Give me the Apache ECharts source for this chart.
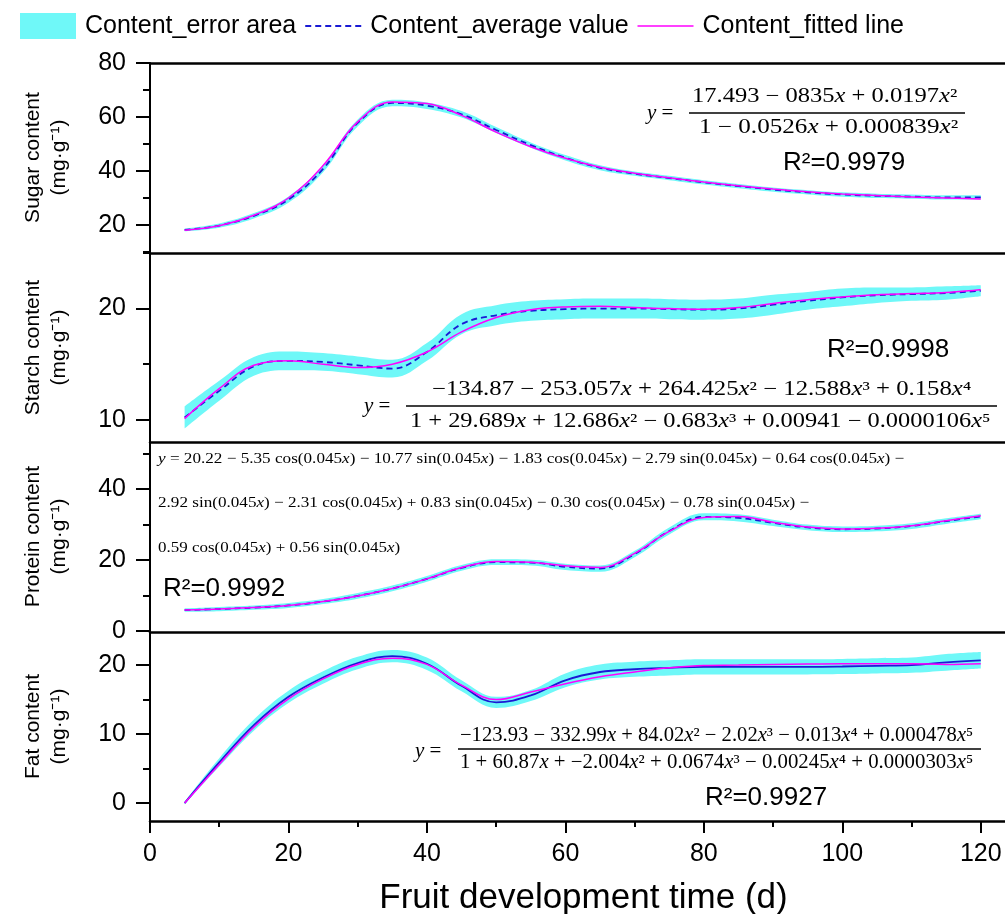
<!DOCTYPE html>
<html><head><meta charset="utf-8">
<script src="https://cdn.jsdelivr.net/npm/echarts@6/dist/echarts.min.js"></script>
<style>html,body{margin:0;padding:0;background:#fff}#c{width:1005px;height:914px}</style>
</head><body><div id="c"></div><script>
// ---------- data ----------
const days = [5,10,15,20,25,30,35,40,45,50,55,60,65,70,75,80,85,90,95,100,105,110,115,120];

const sugarAvg = [18.2,19.8,23.4,29.4,40.8,57.8,65.2,64.2,61.0,55.2,49.6,44.9,41.2,39.0,37.4,35.8,34.4,33.1,32.1,31.3,30.8,30.5,30.2,30.2];
const sugarFit = [18.1,19.7,23.6,30.0,42.0,58.2,65.6,65.0,60.6,54.4,49.0,44.7,41.4,39.2,37.5,35.9,34.5,33.3,32.3,31.5,30.9,30.4,30.0,29.6];
const sugarErr = [0.5,0.8,1.0,1.2,1.3,1.3,1.2,1.2,1.2,1.1,1.0,1.0,0.9,0.8,0.8,0.8,0.8,0.8,0.8,0.8,0.8,0.8,0.8,0.8];

const starchAvg = [10.2,12.6,14.8,15.3,15.2,14.9,14.6,16.1,18.6,19.4,19.8,19.95,20.0,20.0,19.95,19.9,20.0,20.35,20.7,21.0,21.2,21.3,21.4,21.6];
const starchFit = [10.1,12.8,14.9,15.3,15.0,14.7,15.0,16.1,17.9,19.2,19.9,20.15,20.2,20.1,20.0,19.95,20.1,20.45,20.8,21.05,21.25,21.35,21.45,21.7];
const starchErr = [1.0,0.9,0.85,0.85,0.8,0.8,0.8,0.8,0.9,0.9,0.9,0.9,0.9,0.9,0.9,0.9,0.9,0.9,0.8,0.8,0.7,0.6,0.6,0.5];

const proteinAvg = [5.9,6.2,6.6,7.2,8.3,9.9,12.0,14.7,17.8,19.4,19.3,18.1,17.6,21.7,28.2,32.2,31.9,30.5,29.2,28.7,28.9,29.6,31.0,32.3];
const proteinFit = [5.9,6.2,6.6,7.2,8.3,9.9,12.0,14.7,17.9,19.6,19.4,18.4,17.9,21.9,28.1,32.0,32.3,30.7,29.3,28.8,29.0,29.7,31.1,32.5];
const proteinErr = [0.5,0.6,0.6,0.7,0.7,0.8,0.8,0.8,0.8,0.8,0.8,0.9,0.9,0.9,1.0,1.0,1.0,0.9,0.8,0.8,0.8,0.8,0.8,0.8];

const fatAvg = [0.0,5.9,11.3,15.4,18.2,20.3,21.3,20.2,17.0,14.6,15.6,17.8,19.0,19.4,19.6,19.75,19.75,19.75,19.75,19.8,19.9,20.0,20.4,20.7];
const fatFit = [0.0,5.6,11.0,15.1,18.0,20.1,21.0,20.1,17.1,15.0,16.1,17.3,18.3,19.0,19.6,19.95,20.0,20.1,20.15,20.2,20.2,20.2,20.1,20.2];
const fatErr = [0.2,0.6,0.8,0.9,0.9,0.9,0.9,0.9,0.8,0.8,0.8,1.0,1.1,1.1,1.1,1.1,1.1,1.1,1.1,1.1,1.1,1.1,1.2,1.2];

// ---------- tick values ----------
const xTicks = [0,20,40,60,80,100,120];
const xMinorTicks = [10,30,50,70,90,110];
const sugarTicks = [20,40,60,80],  sugarMinor = [10,30,50,70];
const starchTicks = [10,20],       starchMinor = [15,25];
const proteinTicks = [0,20,40],    proteinMinor = [10,30,50];
const fatTicks = [0,10,20],        fatMinor = [5,15];

// ---------- texts ----------
const legendNames = ['Content_error area','Content_average value','Content_fitted line'];
const yNames = ['Sugar content\n(mg·g⁻¹)','Starch content\n(mg·g⁻¹)','Protein content\n(mg·g⁻¹)','Fat content\n(mg·g⁻¹)'];
const xName = 'Fruit development time (d)';
const r2Texts = ['R²=0.9979','R²=0.9998','R²=0.9992','R²=0.9927'];
const sugarEq = ['17.493 − 0835x + 0.0197x²','1 − 0.0526x + 0.000839x²'];
const starchEq = ['−134.87 − 253.057x + 264.425x² − 12.588x³ + 0.158x⁴','1 + 29.689x + 12.686x² − 0.683x³ + 0.00941 − 0.0000106x⁵'];
const fatEq = ['−123.93 − 332.99x + 84.02x² − 2.02x³ − 0.013x⁴ + 0.000478x⁵','1 + 60.87x + −2.004x² + 0.0674x³ − 0.00245x⁴ + 0.0000303x⁵'];
const proteinEq = [
 'y = 20.22 − 5.35 cos(0.045x) − 10.77 sin(0.045x) − 1.83 cos(0.045x) − 2.79 sin(0.045x) − 0.64 cos(0.045x) −',
 '2.92 sin(0.045x) − 2.31 cos(0.045x) + 0.83 sin(0.045x) − 0.30 cos(0.045x) − 0.78 sin(0.045x) −',
 '0.59 cos(0.045x) + 0.56 sin(0.045x)'
];

// ---------- styling ----------
const SANS = '"Liberation Sans", Arial, sans-serif';
const SERIF = '"Liberation Serif", "DejaVu Serif", serif';
const CYAN = '#6ff8f8', BLUE = '#1a1ad4', MAGENTA = '#ff00ff';
const LEFT = 150, WIDTH = 855, XMAX = 123.5, H = 189;
const tops = [63, 253, 442, 632];

const panels = [
  {name:yNames[0], min:10, max:80, ticks:sugarTicks, minor:sugarMinor, avg:sugarAvg, fit:sugarFit, err:sugarErr, dashed:true},
  {name:yNames[1], min:8, max:25, ticks:starchTicks, minor:starchMinor, avg:starchAvg, fit:starchFit, err:starchErr, dashed:true},
  {name:yNames[2], min:0, max:53.3, ticks:proteinTicks, minor:proteinMinor, avg:proteinAvg, fit:proteinFit, err:proteinErr, dashed:true},
  {name:yNames[3], min:-2.6, max:24.8, ticks:fatTicks, minor:fatMinor, avg:fatAvg, fit:fatFit, err:fatErr, dashed:false}
];

const grid = [], xAxis = [], yAxis = [], series = [];
panels.forEach((p, i) => {
  grid.push({left: LEFT, top: tops[i], width: WIDTH, height: H, outerBoundsMode: 'none', containLabel: false});
  xAxis.push({gridIndex: i, type: 'value', min: 0, max: XMAX, position: 'top',
    axisLine: {show: true, onZero: false, lineStyle: {color: '#000', width: 2.5}},
    axisTick: {show: false}, axisLabel: {show: false}, splitLine: {show: false}});
  yAxis.push({gridIndex: i, type: 'value', min: p.min, max: p.max, position: 'left',
    axisLine: {show: true, onZero: false, lineStyle: {color: '#000', width: 2}},
    axisTick: {show: true, inside: false, length: 14, lineStyle: {color: '#000', width: 2}, customValues: p.ticks},
    axisLabel: {show: true, customValues: p.ticks, color: '#000', fontSize: 25, fontFamily: SANS, margin: 24},
    splitLine: {show: false},
    name: p.name, nameLocation: 'middle', nameGap: 78,
    nameTextStyle: {fontSize: 21, fontFamily: SANS, color: '#000', lineHeight: 26}});
  yAxis.push({gridIndex: i, type: 'value', min: p.min, max: p.max, position: 'left',
    axisLine: {show: false, onZero: false},
    axisTick: {show: true, inside: false, length: 7, lineStyle: {color: '#000', width: 2}, customValues: p.minor},
    axisLabel: {show: false}, splitLine: {show: false}});

  const lower = days.map((d, k) => [+(p.avg[k] - p.err[k]).toFixed(2), d]);
  const span = days.map((d, k) => [+(2 * p.err[k]).toFixed(2), d]);
  series.push({type: 'line', name: 'lower' + i, xAxisIndex: i, yAxisIndex: 2 * i, stack: 'band' + i, stackStrategy: 'all',
    data: lower, encode: {x: 1, y: 0}, smooth: 0.4, symbol: 'none', silent: true,
    lineStyle: {width: 0, opacity: 0}, z: 1});
  series.push({type: 'line', name: legendNames[0], xAxisIndex: i, yAxisIndex: 2 * i, stack: 'band' + i, stackStrategy: 'all',
    data: span, encode: {x: 1, y: 0}, smooth: 0.4, symbol: 'none', silent: true, color: CYAN,
    lineStyle: {width: 0, opacity: 0}, areaStyle: {color: CYAN, opacity: 1}, z: 1});
  series.push({type: 'line', name: legendNames[1], xAxisIndex: i, yAxisIndex: 2 * i,
    data: days.map((d, k) => [d, p.avg[k]]), smooth: 0.4, symbol: 'none', silent: true, color: BLUE,
    lineStyle: {color: BLUE, width: 1.8, type: p.dashed ? [6, 4] : 'solid'}, z: 3});
  series.push({type: 'line', name: legendNames[2], xAxisIndex: i, yAxisIndex: 2 * i,
    data: days.map((d, k) => [d, p.fit[k]]), smooth: 0.4, symbol: 'none', silent: true, color: MAGENTA,
    lineStyle: {color: MAGENTA, width: 1.5}, z: 4});
});
// bottom x axis of the last panel
xAxis.push({gridIndex: 3, type: 'value', min: 0, max: XMAX, position: 'bottom',
  axisLine: {show: true, onZero: false, lineStyle: {color: '#000', width: 2.5}},
  axisTick: {show: true, length: 12, lineStyle: {color: '#000', width: 2}, customValues: xTicks},
  axisLabel: {show: true, customValues: xTicks, color: '#000', fontSize: 25, fontFamily: SANS, margin: 21},
  splitLine: {show: false},
  name: xName, nameLocation: 'middle', nameGap: 60,
  nameTextStyle: {fontSize: 35, fontFamily: SANS, color: '#000', padding: [0, 0, 0, 12]}});
xAxis.push({gridIndex: 3, type: 'value', min: 0, max: XMAX, position: 'bottom',
  axisLine: {show: false, onZero: false},
  axisTick: {show: true, length: 6, lineStyle: {color: '#000', width: 2}, customValues: xMinorTicks},
  axisLabel: {show: false}, splitLine: {show: false}});

// ---------- annotation text helpers ----------
const mctx = document.createElement('canvas').getContext('2d');
function measure(str, size, fam) { mctx.font = size + 'px ' + fam; return mctx.measureText(str).width; }
function eq(str, x, y, targetW, size) {
  const sx = targetW ? targetW / measure(str, size, SERIF) : 1;
  return {type: 'text', x: x, y: y, scaleX: sx, scaleY: 1, z: 10,
    style: {text: str.replace(/[xy]/g, m => '{i|' + m + '}'), fontSize: size, fontFamily: SERIF, fill: '#000',
      align: 'left', verticalAlign: 'middle', textAlign: 'left', textVerticalAlign: 'middle',
      rich: {i: {fontStyle: 'italic', fontSize: size, fontFamily: SERIF, fill: '#000'}}}};
}
function bar(x1, x2, y) {
  return {type: 'line', z: 10, shape: {x1: x1, y1: y, x2: x2, y2: y}, style: {stroke: '#000', lineWidth: 1.3}};
}
function r2(str, x, y) {
  return {type: 'text', x: x, y: y, z: 10,
    style: {text: str, fontSize: 26, fontFamily: SANS, fill: '#000', align: 'left', verticalAlign: 'middle',
      textAlign: 'left', textVerticalAlign: 'middle'}};
}
const graphic = [
  // sugar
  eq('y =', 647, 113, 0, 21), eq(sugarEq[0], 692, 97, 268, 20), bar(689, 965, 113), eq(sugarEq[1], 699, 128, 262, 20),
  r2(r2Texts[0], 783, 163),
  // starch
  eq('y =', 364, 406, 0, 21), eq(starchEq[0], 432, 390, 545, 20), bar(406, 997, 406), eq(starchEq[1], 410, 422, 586, 20),
  r2(r2Texts[1], 827, 350),
  // protein
  eq(proteinEq[0], 158, 459, 752, 15), eq(proteinEq[1], 158, 503, 656, 15), eq(proteinEq[2], 158, 548, 244, 15),
  r2(r2Texts[2], 163, 589),
  // fat
  eq('y =', 415, 751, 0, 21), eq(fatEq[0], 460, 736, 519, 20), bar(458, 981, 749), eq(fatEq[1], 460, 763, 519, 20),
  r2(r2Texts[3], 705, 798)
];

const chart = echarts.init(document.getElementById('c'), null, {renderer: 'canvas'});
chart.setOption({
  animation: false,
  backgroundColor: '#fff',
  legend: {left: 15, top: 8, itemWidth: 56, itemHeight: 26, itemGap: 8, selectedMode: false,
    textStyle: {fontSize: 25, color: '#000', fontFamily: SANS, padding: [0, 0, 0, 4]},
    data: [{name: legendNames[0], icon: 'rect', itemStyle: {color: CYAN}},
           {name: legendNames[1], itemStyle: {opacity: 0}, lineStyle: {color: BLUE, width: 2, type: [6, 4]}},
           {name: legendNames[2], itemStyle: {opacity: 0}, lineStyle: {color: MAGENTA, width: 1.5}}]},
  grid: grid, xAxis: xAxis, yAxis: yAxis, series: series, graphic: graphic
});
</script></body></html>
